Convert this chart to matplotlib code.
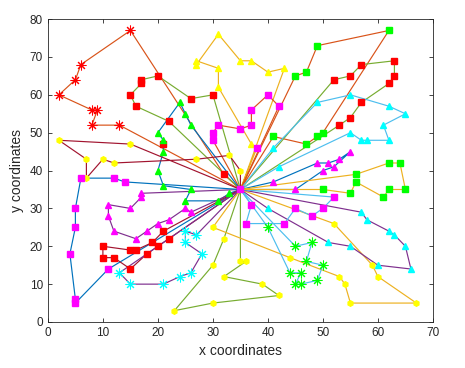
import numpy as np
import matplotlib
matplotlib.use('Agg')
import matplotlib.pyplot as plt

plt.rcParams['font.family'] = ['Liberation Sans', 'DejaVu Sans']

# depot
depot = (35, 35)

# MATLAB default line colours
C_BLUE = '#0072BD'
C_ORANGE = '#D95319'
C_YELLOW = '#EDB120'
C_PURPLE = '#7E2F8E'
C_GREEN = '#77AC30'
C_LBLUE = '#4DBEEE'
C_DRED = '#A2142F'

# ── customers by marker group ──
red_star_x = [15, 6, 5, 2, 8, 9, 8, 13]
red_star_y = [77, 68, 64, 60, 56, 56, 52, 52]

red_sq_x = [20, 17, 17, 15, 16, 22, 26, 30, 21, 32,
            52, 55, 57, 63, 63, 62, 57, 55, 53,
            21, 22, 19, 20, 10, 15, 16, 18, 10, 12, 15]
red_sq_y = [65, 64, 63, 60, 57, 53, 59, 60, 47, 39,
            64, 65, 68, 69, 65, 63, 58, 54, 52,
            24, 22, 21, 20, 20, 19, 19, 18, 17, 17, 14]

green_sq_x = [62, 49, 45, 47, 49, 50, 41, 47, 62, 64, 56, 56, 55, 50, 61, 62, 65]
green_sq_y = [77, 73, 65, 66, 49, 50, 49, 47, 42, 42, 39, 37, 34, 35, 33, 35, 35]

green_tri_x = [24, 25, 26, 20, 21, 21, 20, 21, 26, 25, 31, 33]
green_tri_y = [58, 55, 52, 50, 48, 45, 40, 36, 35, 32, 32, 34]

green_star_x = [40, 45, 48, 47, 50, 49, 46, 45, 46, 44]
green_star_y = [25, 20, 21, 16, 15, 11, 10, 10, 13, 13]

yellow_tri_x = [31, 27, 27, 31, 31, 35, 37, 40, 43, 37]
yellow_tri_y = [76, 68, 69, 67, 62, 69, 69, 66, 67, 47]

yellow_dot_x = [2, 15, 7, 10, 12, 7, 27, 33, 35, 30, 32, 30, 32, 30, 23,
                35, 36, 39, 42, 52, 44, 53, 54, 55, 67, 60, 59]
yellow_dot_y = [48, 47, 43, 43, 42, 38, 43, 44, 40, 25, 22, 15, 12, 5, 3,
                16, 16, 10, 7, 26, 17, 12, 10, 5, 5, 12, 15]

mag_sq_x = [40, 37, 42, 37, 35, 31, 30, 30, 38,
            6, 12, 14, 5, 5, 4, 5, 5, 11,
            52, 50, 48, 45, 37, 36, 43]
mag_sq_y = [60, 56, 57, 52, 51, 52, 50, 48, 46,
            38, 38, 37, 30, 25, 18, 6, 5, 14,
            33, 30, 28, 30, 31, 26, 26]

mag_tri_x = [17, 17, 11, 15, 11, 12, 16, 18, 20, 22, 25, 26,
             49, 51, 53, 55, 52, 50, 41, 45]
mag_tri_y = [34, 33, 31, 30, 28, 24, 22, 24, 26, 27, 30, 29,
             42, 42, 43, 45, 41, 40, 37, 35]

cyan_tri_x = [41, 49, 55, 62, 65, 61, 62, 58, 57, 55, 42,
              40, 57, 58, 62, 63, 65, 66, 60, 55, 51]
cyan_tri_y = [46, 58, 60, 57, 55, 52, 48, 48, 48, 50, 41,
              30, 29, 27, 24, 23, 20, 14, 15, 20, 21]

cyan_star_x = [25, 27, 25, 28, 26, 24, 21, 15, 13]
cyan_star_y = [24, 23, 21, 18, 13, 12, 10, 10, 13]

# ── routes (customer order, depot added at both ends) ──
route_1 = [(13, 52), (8, 52), (9, 56), (8, 56), (2, 60), (5, 64), (6, 68), (15, 77), (32, 39)]
route_2 = [(22, 53), (16, 57), (15, 60), (17, 63), (17, 64), (20, 65), (26, 59), (30, 60)]
route_3 = [(43, 67), (40, 66), (37, 69), (35, 69), (31, 76), (27, 68), (27, 69), (31, 67),
           (31, 62), (37, 47), (38, 46)]
route_4 = [(30, 48), (30, 50), (31, 52), (35, 51), (37, 52), (37, 56), (40, 60), (42, 57)]
route_5 = [(45, 65), (47, 66), (49, 73), (62, 77), (50, 50), (49, 49), (47, 47), (41, 49)]
route_6 = [(52, 64), (55, 65), (57, 68), (63, 69), (63, 65), (62, 63), (57, 58), (55, 54), (53, 52)]
route_7 = [(41, 46), (49, 58), (55, 60), (62, 57), (65, 55), (61, 52), (62, 48), (58, 48),
           (57, 48), (55, 50), (42, 41)]
route_8 = [(33, 34), (31, 32), (25, 32), (26, 35), (21, 36), (20, 40), (21, 45), (21, 47),
           (21, 48), (20, 50), (24, 58), (25, 55), (26, 52)]
route_9 = [(17, 34), (17, 33), (15, 30), (11, 31), (11, 28), (12, 24), (16, 22), (18, 24),
           (20, 26), (22, 27), (25, 30), (26, 29)]
route_10 = [(14, 37), (12, 38), (6, 38), (5, 30), (5, 25), (4, 18), (5, 6), (5, 5), (11, 14)]
route_11 = [(35, 40), (33, 44), (27, 43), (12, 42), (10, 43), (7, 38), (7, 43), (2, 48), (15, 47)]
route_12 = [(21, 24), (19, 21), (16, 19), (15, 19), (10, 20), (10, 17), (12, 17), (15, 14),
            (18, 18), (20, 20), (22, 22)]
route_13 = [(27, 23), (25, 24), (25, 21), (28, 18), (26, 13), (24, 12), (21, 10), (15, 10), (13, 13)]
route_14 = [(32, 22), (30, 15), (23, 3), (30, 5), (42, 7), (39, 10), (32, 12), (36, 16), (35, 16)]
route_15 = [(30, 25), (44, 17), (53, 12), (54, 10), (55, 5), (67, 5), (60, 12), (59, 15), (52, 26)]
route_16 = [(57, 29), (58, 27), (62, 24), (63, 23), (65, 20), (66, 14), (60, 15), (55, 20),
            (51, 21), (40, 30)]
route_17 = [(37, 31), (36, 26), (43, 26), (45, 30), (48, 28), (50, 30), (52, 33)]
route_18 = [(40, 25), (44, 13), (46, 13), (45, 10), (46, 10), (49, 11), (50, 15), (47, 16),
            (48, 21), (45, 20)]
route_19 = [(41, 37), (49, 42), (51, 42), (53, 43), (55, 45), (52, 41), (50, 40), (45, 35)]
route_20 = [(50, 35), (55, 34), (56, 37), (61, 33), (62, 35), (65, 35), (64, 42), (62, 42), (56, 39)]

routes = [route_1, route_2, route_3, route_4, route_5, route_6, route_7, route_8, route_9, route_10,
          route_11, route_12, route_13, route_14, route_15, route_16, route_17, route_18, route_19,
          route_20]
route_colors = [C_ORANGE, C_GREEN, C_YELLOW, C_ORANGE, C_ORANGE, C_GREEN, C_LBLUE, C_BLUE, C_PURPLE,
                C_BLUE, C_DRED, C_DRED, C_PURPLE, C_GREEN, C_YELLOW, C_PURPLE, C_LBLUE, C_LBLUE,
                C_BLUE, C_YELLOW]

# ── plot ──
fig = plt.figure(figsize=(4.65, 3.68), dpi=100)
ax = fig.add_axes([0.103, 0.125, 0.828, 0.823])

for r, c in zip(routes, route_colors):
    pts = [depot] + r + [depot]
    xs = [p[0] for p in pts]
    ys = [p[1] for p in pts]
    ax.plot(xs, ys, '-', color=c, linewidth=0.85, zorder=2)

asterisk = (8, 2, 0)
ax.plot(red_star_x, red_star_y, linestyle='none', marker=asterisk, color='r', markersize=7,
        markeredgewidth=0.75, zorder=3)
ax.plot(red_sq_x, red_sq_y, 's', color='r', markersize=4.2, zorder=3)
ax.plot(green_sq_x, green_sq_y, 's', color='#00ff00', markersize=4.2, zorder=3)
ax.plot(green_tri_x, green_tri_y, '^', color='#00ff00', markersize=5, zorder=3)
ax.plot(green_star_x, green_star_y, linestyle='none', marker=asterisk, color='#00ff00', markersize=7,
        markeredgewidth=0.75, zorder=3)
ax.plot(yellow_tri_x, yellow_tri_y, '^', color='#ffff00', markersize=5, zorder=3)
ax.plot(yellow_dot_x, yellow_dot_y, 'h', color='#ffff00', markersize=4, zorder=3)
ax.plot(mag_sq_x, mag_sq_y, 's', color='#ff00ff', markersize=4.2, zorder=3)
ax.plot(mag_tri_x, mag_tri_y, '^', color='#ff00ff', markersize=5, zorder=3)
ax.plot(cyan_tri_x, cyan_tri_y, '^', color='#00ffff', markersize=5, zorder=3)
ax.plot(cyan_star_x, cyan_star_y, linestyle='none', marker=asterisk, color='#00ffff', markersize=7,
        markeredgewidth=0.75, zorder=3)
ax.plot([depot[0]], [depot[1]], 's', color='#ff00ff', markersize=4.2, zorder=4)

ax.set_xlim(0, 70)
ax.set_ylim(0, 80)
ax.set_xticks(np.arange(0, 71, 10))
ax.set_yticks(np.arange(0, 81, 10))
ax.tick_params(direction='in', top=True, right=True, length=3, width=0.6,
               labelsize=8.5, colors='#262626')
for s in ax.spines.values():
    s.set_color('#262626')
    s.set_linewidth(0.6)
ax.set_xlabel('x coordinates', fontsize=10, color='#262626', labelpad=4)
ax.set_ylabel('y coordinates', fontsize=10, color='#262626', labelpad=4)

fig.savefig('out.png', dpi=100, facecolor='white')
